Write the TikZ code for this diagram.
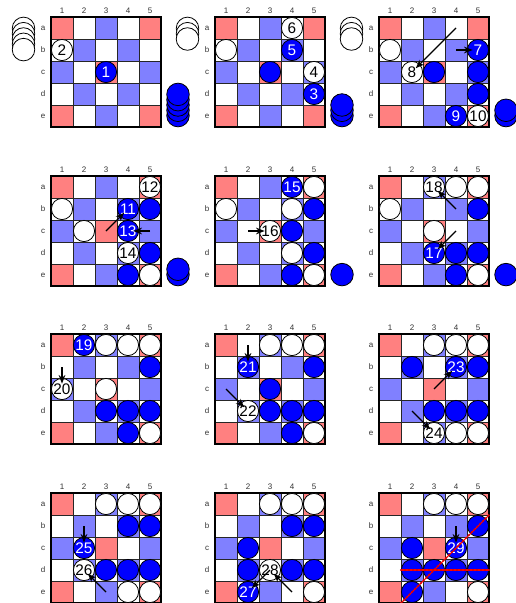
\documentclass[tikz,border=0pt]{standalone}
\usepackage{fontspec}
\setmainfont{Liberation Sans}
\usetikzlibrary{arrows.meta}
\definecolor{cred}{HTML}{FF8080}
\definecolor{cblue}{HTML}{8080FF}
\definecolor{pblue}{HTML}{0000FF}
\definecolor{lblgray}{HTML}{333333}
\definecolor{winred}{HTML}{FF0000}
\tikzset{
  gridln/.style={draw=black!85, line width=0.6pt},
  border/.style={draw=black, line width=1pt},
  lbl/.style={font=\fontsize{6}{7}\selectfont, text=lblgray, inner sep=0pt},
  wp/.style={circle, draw=black, line width=0.6pt, fill=white, minimum size=15.9pt, inner sep=0pt, text=black, font=\fontsize{11.5}{12}\selectfont},
  bp/.style={wp, fill=pblue, text=white},
  ws/.style={circle, draw=black, line width=0.6pt, fill=white, minimum size=16.9pt, inner sep=0pt},
  bs/.style={ws, fill=pblue},
  mv/.style={-{Stealth[length=6.5pt,width=5pt]}, line width=1pt, shorten >=4pt},
  winln/.style={draw=winred, line width=0.8pt},
  windots/.style={draw=winred!85!black, line width=1.8pt, line cap=round, dash pattern=on 0pt off 3pt}
}
\newcommand\drawboard[3]{%
  \begin{scope}[shift={(#2,#3)}]
    \fill[white] (0,0) rectangle (110,110);
    \foreach \r/\l in {1/a,2/b,3/c,4/d,5/e}{
      \foreach \c in {1,...,5}{
        \coordinate (#1-\l\c) at ({(\c-0.5)*22},{(\r-0.5)*22});
      }
    }
    \foreach \c/\r in {1/1,5/1,3/3,1/5,5/5}{\fill[cred] ({(\c-1)*22},{(\r-1)*22}) rectangle ({\c*22},{\r*22});}
    \foreach \c/\r in {3/1,2/2,4/2,1/3,5/3,2/4,4/4,3/5}{\fill[cblue] ({(\c-1)*22},{(\r-1)*22}) rectangle ({\c*22},{\r*22});}
    \foreach \i in {1,...,4}{
      \draw[gridln] ({\i*22},0) -- ({\i*22},110);
      \draw[gridln] (0,{\i*22}) -- (110,{\i*22});
    }
    \draw[border] (0,0) rectangle (110,110);
    \foreach \c in {1,...,5}{\node[lbl] (#1-col\c) at ({(\c-0.5)*22},-6.5) {\c};}
    \foreach \r/\l in {1/a,2/b,3/c,4/d,5/e}{\node[lbl] (#1-row\l) at (-8,{(\r-0.5)*22}) {\l};}
  \end{scope}}
\newcommand\wstack[3]{\foreach \i in {1,...,#3}{\node[ws] (#1-ws\i) at (#2,{17+11.4+(\i-1)*5.3}) {};}}
\newcommand\bstack[4]{\foreach \i in {1,...,#4}{\node[bs] (#1-bs\i) at (#2,{#3-11.4-(\i-1)*5.3}) {};}}
\newcommand\wpc[3]{\node[wp] (#1-#2-p) at (#1-#2) {#3};}
\newcommand\bpc[3]{\node[bp] (#1-#2-p) at (#1-#2) {#3};}
\newcommand\mvarrow[3]{\draw[mv] (#1-#2) -- (#1-#3);}
\begin{document}
\begin{tikzpicture}[x=0.75pt,y=-0.75pt]
\fill[white] (0,0) rectangle (516,603);
\useasboundingbox (0,0) rectangle (516,603);
% boards
\drawboard{B1}{51}{17}
\drawboard{B2}{215}{17}
\drawboard{B3}{379}{17}
\drawboard{B4}{51}{176}
\drawboard{B5}{215}{176}
\drawboard{B6}{379}{176}
\drawboard{B7}{51}{334}
\drawboard{B8}{215}{334}
\drawboard{B9}{379}{334}
\drawboard{B10}{51}{493}
\drawboard{B11}{215}{493}
\drawboard{B12}{379}{493}
% stacks
\wstack{B1}{23.5}{5}
\wstack{B2}{187.5}{3}
\wstack{B3}{351.5}{3}
\bstack{B1}{178}{127}{5}
\bstack{B2}{342}{127}{3}
\bstack{B3}{506}{127}{2}
\bstack{B4}{178}{286}{2}
\bstack{B5}{342}{286}{1}
\bstack{B6}{506}{286}{1}
% board 1
\wpc{B1}{b1}{2} \bpc{B1}{c3}{1}
% board 2
\wpc{B2}{b1}{} \bpc{B2}{c3}{} \wpc{B2}{a4}{6} \bpc{B2}{b4}{5} \wpc{B2}{c5}{4} \bpc{B2}{d5}{3}
% board 3
\wpc{B3}{b1}{} \wpc{B3}{c2}{8} \bpc{B3}{c3}{} \bpc{B3}{b5}{7} \bpc{B3}{c5}{} \bpc{B3}{d5}{} \bpc{B3}{e4}{9} \wpc{B3}{e5}{10}
\mvarrow{B3}{b4}{b5} \mvarrow{B3}{a4}{c2}
% board 4
\wpc{B4}{a5}{12} \wpc{B4}{b1}{} \bpc{B4}{b4}{11} \bpc{B4}{b5}{} \wpc{B4}{c2}{} \bpc{B4}{c4}{13} \wpc{B4}{d4}{14} \bpc{B4}{d5}{} \bpc{B4}{e4}{} \wpc{B4}{e5}{}
\mvarrow{B4}{c3}{b4} \mvarrow{B4}{c5}{c4}
% board 5
\bpc{B5}{a4}{15} \wpc{B5}{a5}{} \wpc{B5}{b1}{} \wpc{B5}{b4}{} \bpc{B5}{b5}{} \wpc{B5}{c3}{16} \bpc{B5}{c4}{} \wpc{B5}{d4}{} \bpc{B5}{d5}{} \bpc{B5}{e4}{} \wpc{B5}{e5}{}
\mvarrow{B5}{c2}{c3}
% board 6
\wpc{B6}{a3}{18} \wpc{B6}{a4}{} \wpc{B6}{a5}{} \wpc{B6}{b1}{} \bpc{B6}{b5}{} \wpc{B6}{c3}{} \bpc{B6}{d3}{17} \bpc{B6}{d4}{} \bpc{B6}{d5}{} \bpc{B6}{e4}{} \wpc{B6}{e5}{}
\mvarrow{B6}{b4}{a3} \mvarrow{B6}{c4}{d3}
% board 7
\bpc{B7}{a2}{19} \wpc{B7}{a3}{} \wpc{B7}{a4}{} \wpc{B7}{a5}{} \bpc{B7}{b5}{} \wpc{B7}{c1}{20} \wpc{B7}{c3}{} \bpc{B7}{d3}{} \bpc{B7}{d4}{} \bpc{B7}{d5}{} \bpc{B7}{e4}{} \wpc{B7}{e5}{}
\mvarrow{B7}{b1}{c1}
% board 8
\wpc{B8}{a3}{} \wpc{B8}{a4}{} \wpc{B8}{a5}{} \bpc{B8}{b2}{21} \bpc{B8}{b5}{} \bpc{B8}{c3}{} \wpc{B8}{d2}{22} \bpc{B8}{d3}{} \bpc{B8}{d4}{} \bpc{B8}{d5}{} \bpc{B8}{e4}{} \wpc{B8}{e5}{}
\mvarrow{B8}{a2}{b2} \mvarrow{B8}{c1}{d2}
% board 9
\wpc{B9}{a3}{} \wpc{B9}{a4}{} \wpc{B9}{a5}{} \bpc{B9}{b2}{} \bpc{B9}{b4}{23} \bpc{B9}{b5}{} \bpc{B9}{d3}{} \bpc{B9}{d4}{} \bpc{B9}{d5}{} \wpc{B9}{e3}{24} \wpc{B9}{e4}{} \wpc{B9}{e5}{}
\mvarrow{B9}{c3}{b4} \mvarrow{B9}{d2}{e3}
% board 10
\wpc{B10}{a3}{} \wpc{B10}{a4}{} \wpc{B10}{a5}{} \bpc{B10}{b4}{} \bpc{B10}{b5}{} \bpc{B10}{c2}{25} \wpc{B10}{d2}{26} \bpc{B10}{d3}{} \bpc{B10}{d4}{} \bpc{B10}{d5}{} \wpc{B10}{e4}{} \wpc{B10}{e5}{}
\mvarrow{B10}{b2}{c2} \mvarrow{B10}{e3}{d2}
% board 11
\wpc{B11}{a3}{} \wpc{B11}{a4}{} \wpc{B11}{a5}{} \bpc{B11}{b4}{} \bpc{B11}{b5}{} \bpc{B11}{c2}{} \bpc{B11}{d2}{} \wpc{B11}{d3}{28} \bpc{B11}{d4}{} \bpc{B11}{d5}{} \bpc{B11}{e2}{27} \wpc{B11}{e5}{}
\mvarrow{B11}{d3}{e2} \mvarrow{B11}{e4}{d3}
% board 12
\wpc{B12}{a3}{} \wpc{B12}{a4}{} \wpc{B12}{a5}{} \bpc{B12}{b5}{} \bpc{B12}{c2}{} \bpc{B12}{c4}{29} \bpc{B12}{d2}{} \bpc{B12}{d3}{} \bpc{B12}{d4}{} \bpc{B12}{d5}{} \bpc{B12}{e2}{} \wpc{B12}{e5}{}
\mvarrow{B12}{b4}{c4}
% winning lines
\coordinate (w1a) at ([shift={(-11,11)}]B12-e2);
\coordinate (w1b) at ([shift={(11,-11)}]B12-b5);
\coordinate (w2a) at ([shift={(-11,0)}]B12-d2);
\coordinate (w2b) at ([shift={(11,0)}]B12-d5);
\draw[winln] (w1a) -- (w1b);
\draw[windots] (w1a) -- (w1b);
\draw[winln] (w2a) -- (w2b);
\draw[windots] (w2a) -- (w2b);
\end{tikzpicture}
\end{document}
